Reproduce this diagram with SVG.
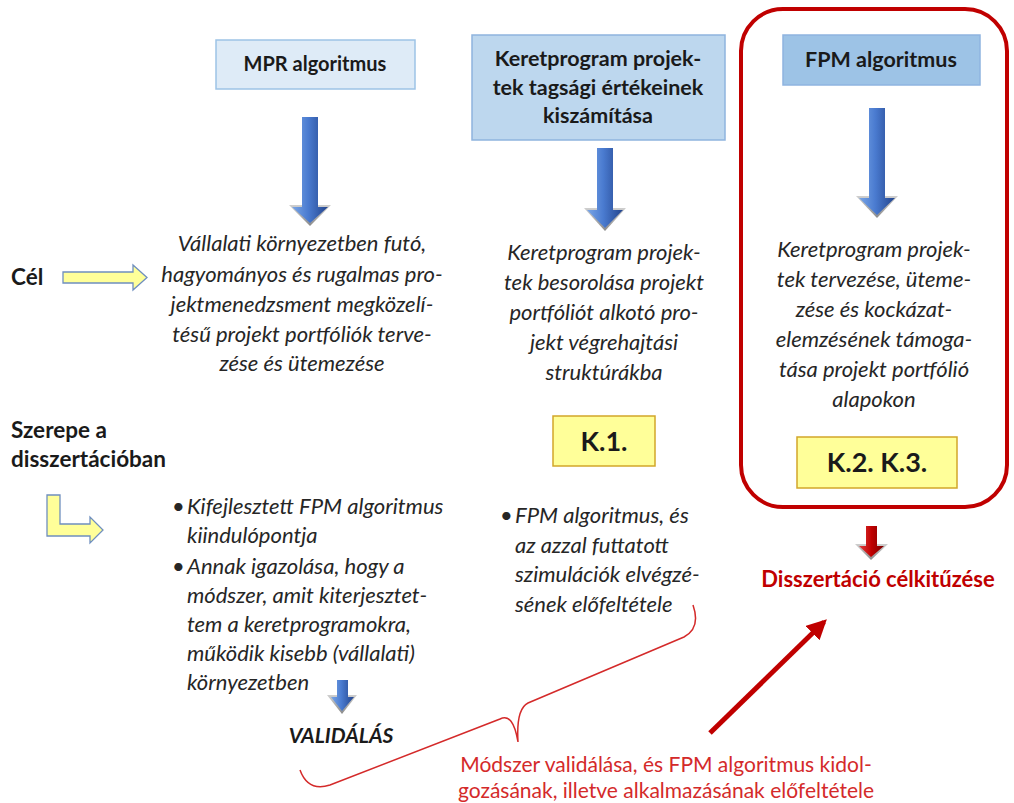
<svg xmlns="http://www.w3.org/2000/svg" width="1014" height="803" viewBox="0 0 1014 803">
<defs>
<linearGradient id="gBlue" x1="0" y1="0" x2="1" y2="0">
<stop offset="0" stop-color="#7aa6e6"/>
<stop offset="0.45" stop-color="#4a7bd0"/>
<stop offset="1" stop-color="#23448c"/>
</linearGradient>
<linearGradient id="gShadow" x1="0" y1="0" x2="0" y2="1">
<stop offset="0" stop-color="#cfcfcf"/>
<stop offset="1" stop-color="#8a8a8a"/>
</linearGradient>
<linearGradient id="gRed" x1="0" y1="0" x2="1" y2="0">
<stop offset="0" stop-color="#e04040"/>
<stop offset="0.5" stop-color="#c00000"/>
<stop offset="1" stop-color="#7a0000"/>
</linearGradient>
<marker id="redHead" viewBox="0 0 10 10" refX="8" refY="5" markerWidth="4" markerHeight="4" orient="auto" markerUnits="strokeWidth">
<path d="M0,0 L10,5 L0,10 Z" fill="#c00000"/>
</marker>
</defs>
<style>
text{font-family:Lato,"Liberation Sans",sans-serif;fill:#1a1a1a}
.h{font-weight:bold;font-size:21.5px;text-anchor:middle}
.it{font-style:italic;font-size:22px;text-anchor:middle;fill:#262626}
.itl{font-style:italic;font-size:22px;fill:#262626}
.lbl{font-weight:bold;font-size:22.5px}
.k{font-weight:bold;font-size:27px;text-anchor:middle}
.red{fill:#d42a2a;font-size:21px;text-anchor:middle}
.ybox{fill:#ffff99;stroke:#d2a72a;stroke-width:1.5}
.yarrow{fill:#ffff99;stroke:#6f8fbf;stroke-width:1.3}
</style>
<rect width="1014" height="803" fill="#ffffff"/>

<g id="frame-fpm">
<rect x="741" y="9" width="266" height="498" rx="42" fill="none" stroke="#c00000" stroke-width="4"/>
</g>

<g id="node-mpr">
<rect x="216" y="40" width="199" height="49" fill="#deebf7" stroke="#9dc3e6" stroke-width="1.5"/>
<text class="h" x="315" y="71" style="font-size:20px">MPR algoritmus</text>
</g>

<g id="node-keret">
<rect x="472" y="35" width="253" height="105" fill="#bdd7ee" stroke="#8fb4de" stroke-width="1.5"/>
<text class="h" x="598" y="66">Keretprogram projek-</text>
<text class="h" x="598" y="95">tek tagsági értékeinek</text>
<text class="h" x="598" y="123">kiszámítása</text>
</g>

<g id="node-fpm">
<rect x="783" y="35" width="197" height="50" fill="#9dc3e6" stroke="#8fb4e0" stroke-width="1.5"/>
<text class="h" x="881" y="67">FPM algoritmus</text>
</g>

<g id="text-mpr">
<text class="it" x="302" y="251">Vállalati környezetben futó,</text>
<text class="it" x="302" y="282">hagyományos és rugalmas pro-</text>
<text class="it" x="302" y="312">jektmenedzsment megközelí-</text>
<text class="it" x="302" y="342">tésű projekt portfóliók terve-</text>
<text class="it" x="302" y="371">zése és ütemezése</text>
</g>

<g id="text-keret">
<text class="it" x="604" y="260">Keretprogram projek-</text>
<text class="it" x="604" y="290">tek besorolása projekt</text>
<text class="it" x="604" y="320">portfóliót alkotó pro-</text>
<text class="it" x="604" y="350">jekt végrehajtási</text>
<text class="it" x="604" y="380">struktúrákba</text>
</g>

<g id="text-fpm">
<text class="it" x="874" y="257">Keretprogram projek-</text>
<text class="it" x="874" y="287">tek tervezése, üteme-</text>
<text class="it" x="874" y="317">zése és kockázat-</text>
<text class="it" x="874" y="347">elemzésének támoga-</text>
<text class="it" x="874" y="377">tása projekt portfólió</text>
<text class="it" x="874" y="407">alapokon</text>
</g>

<g id="node-k1">
<rect class="ybox" x="553" y="416" width="102" height="50"/>
<text class="k" x="604" y="451">K.1.</text>
</g>

<g id="node-k23">
<rect class="ybox" x="797" y="437" width="160" height="51"/>
<text class="k" x="877" y="472">K.2. K.3.</text>
</g>

<g id="label-cel">
<text class="lbl" x="11" y="285">Cél</text>
</g>

<g id="label-szerepe">
<text class="lbl" x="11" y="438">Szerepe a</text>
<text class="lbl" x="11" y="467">disszertációban</text>
</g>

<g id="bullets-left">
<text class="itl" x="172" y="514">•</text>
<text class="itl" x="187" y="514">Kifejlesztett FPM algoritmus</text>
<text class="itl" x="187" y="543">kiindulópontja</text>
<text class="itl" x="172" y="574">•</text>
<text class="itl" x="187" y="574">Annak igazolása, hogy a</text>
<text class="itl" x="187" y="603">módszer, amit kiterjesztet-</text>
<text class="itl" x="187" y="632">tem a keretprogramokra,</text>
<text class="itl" x="187" y="661">működik kisebb (vállalati)</text>
<text class="itl" x="187" y="690">környezetben</text>
</g>

<g id="bullets-mid">
<text class="itl" x="500" y="523">•</text>
<text class="itl" x="515" y="523">FPM algoritmus, és</text>
<text class="itl" x="515" y="553">az azzal futtatott</text>
<text class="itl" x="515" y="582">szimulációk elvégzé-</text>
<text class="itl" x="515" y="612">sének előfeltétele</text>
</g>

<g id="node-validalas">
<text x="341" y="743" style="font-weight:bold;font-style:italic;font-size:21px;text-anchor:middle">VALIDÁLÁS</text>
</g>

<g id="node-celkituzes">
<text x="878" y="587" style="font-weight:bold;font-size:22px;text-anchor:middle;fill:#c00000">Disszertáció célkitűzése</text>
</g>

<g id="node-modszer">
<text class="red" x="666" y="772">Módszer validálása, és FPM algoritmus kidol-</text>
<text class="red" x="666" y="798">gozásának, illetve alkalmazásának előfeltétele</text>
</g>

<g id="connectors">
<path d="M289,205 L331,205 L310,226 Z" fill="url(#gShadow)"/>
<path d="M302,117 L318,117 L318,207 L328,207 L310,223 L292,207 L302,207 Z" fill="url(#gBlue)"/>
<path d="M584,208 L626,208 L605,231 Z" fill="url(#gShadow)"/>
<path d="M597,148 L613,148 L613,210 L623,210 L605,228 L587,210 L597,210 Z" fill="url(#gBlue)"/>
<path d="M856,196 L898,196 L877,218 Z" fill="url(#gShadow)"/>
<path d="M869,108 L885,108 L885,198 L895,198 L877,215 L859,198 L869,198 Z" fill="url(#gBlue)"/>
<path d="M327,695 L357,695 L342,714 Z" fill="url(#gShadow)"/>
<path d="M337,680 L348,680 L348,697 L354,697 L342,711 L331,697 L337,697 Z" fill="url(#gBlue)"/>
<path d="M855,544 L888,544 L871,560 Z" fill="url(#gShadow)"/>
<path d="M866,526 L877,526 L877,546 L884,546 L871,557 L859,546 L866,546 Z" fill="url(#gRed)"/>
<path class="yarrow" d="M63,272 L133,272 L133,265 L147,277.5 L133,290 L133,283 L63,283 Z"/>
<path class="yarrow" d="M47,495 L60,495 L60,524 L90,524 L90,517 L103,530 L90,543 L90,536 L47,536 Z"/>
<path d="M693,605 Q701,628 684,637 L528,703 Q516,709 518,742 Q513,712 500,719 L330,785 Q308,792 300,770" fill="none" stroke="#d42a2a" stroke-width="1.5"/>
<line x1="710" y1="733" x2="824" y2="622" stroke="#c00000" stroke-width="5" marker-end="url(#redHead)"/>
</g>
</svg>
